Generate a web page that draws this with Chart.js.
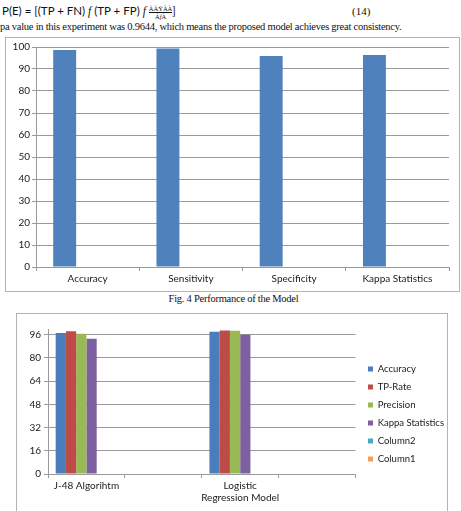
<!DOCTYPE html>
<html>
<head>
<meta charset="utf-8">
<script src="https://cdn.jsdelivr.net/npm/chart.js"></script>
<style>
  body { margin: 0; background: #fff; width: 461px; height: 511px; overflow: hidden; position: relative; }
  .txt { position: absolute; white-space: nowrap; color: #111; }
  .serif { font-family: "Liberation Serif", serif; font-size: 10.5px; letter-spacing: -0.25px; }
  .box { position: absolute; border: 1px solid #b3b3b3; box-sizing: border-box; }
  canvas { position: absolute; }
  .frac { display: inline-block; vertical-align: middle; text-align: center; font-size: 6.5px; line-height: 7px; font-family: "Liberation Serif", serif; }
  .frac span { display: block; }
  .frac .num { border-bottom: 1px solid #111; }
</style>
</head>
<body>
<div class="txt" style="left:49px;top:-6px;font-size:7px;font-family:'Liberation Serif'">À</div>
<div class="txt" style="left:2px;top:4px;font-family:Lato;font-size:11.5px">P(E) = [(TP + FN) <i style="font-family:'Liberation Serif'">f</i> (TP + FP) <i style="font-family:'Liberation Serif'">f</i> <span class="frac"><span class="num">ÀÀŸÀÀ</span><span>À<i>f</i>À</span></span>]</div>
<div class="txt serif" style="left:352px;top:5px;font-size:11px;letter-spacing:0">(14)</div>
<div class="txt serif" style="left:0px;top:21px">pa value in this experiment was 0.9644, which means the proposed model achieves great consistency.</div>

<div class="box" style="left:5px;top:37px;width:455px;height:255px"></div>
<canvas id="perfChart" width="453" height="253" style="left:6px;top:38px"></canvas>
<div class="txt serif" style="left:3px;top:293px;width:461px;text-align:center">Fig. 4 Performance of the Model</div>

<div class="box" style="left:16px;top:313px;width:432px;height:220px"></div>
<canvas id="compareChart" width="430" height="197" style="left:17px;top:314px"></canvas>

<script>
// Fig. 4 data
const perfLabels = ["Accuracy", "Sensitivity", "Specificity", "Kappa Statistics"];
const perfSeries1 = [98.6, 99.3, 95.9, 96.4];
const perfSeries2 = [null, null, null, null];
const perfSeries3 = [null, null, null, null];

// second chart data
const modelLabels = ["J-48 Algorihtm", "", ["Logistic", "Regression Model"], ""];
const accuracy = [97.2, null, 98.1, null];
const tpRate = [98.5, null, 99.0, null];
const precision = [96.7, null, 98.8, null];
const kappa = [93.2, null, 96.0, null];
const column2 = [null, null, null, null];
const column1 = [null, null, null, null];

const gridColor = "#9a9a9a";
const labelFont = { family: "Lato", size: 10 };
const labelColor = "#1a1a1a";

// Fig. 4
new Chart(document.getElementById("perfChart"), {
  type: "bar",
  data: {
    labels: perfLabels,
    datasets: [
      { label: "Series1", data: perfSeries1, backgroundColor: "#4F81BD" },
      { label: "Series2", data: perfSeries2, backgroundColor: "#C0504D" },
      { label: "Series3", data: perfSeries3, backgroundColor: "#9BBB59" },
    ],
  },
  options: {
    responsive: false,
    animation: false,
    events: [],
    categoryPercentage: 3 / 4.5,
    barPercentage: 1,
    layout: { padding: { left: 0, right: 10, top: 9, bottom: 0 } },
    plugins: { legend: { display: false }, tooltip: { enabled: false } },
    scales: {
      x: {
        afterFit: (scale) => { scale.height = 24; },
        grid: { offset: true, drawOnChartArea: false, tickLength: 4, color: gridColor },
        border: { color: gridColor },
        ticks: { font: labelFont, color: labelColor, padding: 2, maxRotation: 0 },
      },
      y: {
        min: 0,
        max: 100,
        afterFit: (scale) => { scale.width = 30; },
        grid: { color: gridColor, tickLength: 4 },
        border: { color: gridColor },
        ticks: { stepSize: 10, font: labelFont, color: labelColor, padding: 2 },
      },
    },
  },
});

// move the legend a little away from the plot, like the original
const legendShift = {
  id: "legendShift",
  afterLayout(chart) {
    const lg = chart.legend;
    lg.left += 4;
    lg.right += 4;
    lg.top -= 6;
    lg.bottom -= 6;
  },
};

new Chart(document.getElementById("compareChart"), {
  type: "bar",
  data: {
    labels: modelLabels,
    datasets: [
      { label: "Accuracy", data: accuracy, backgroundColor: "#4A7EBB" },
      { label: "TP-Rate", data: tpRate, backgroundColor: "#BE4B48" },
      { label: "Precision", data: precision, backgroundColor: "#98B954" },
      { label: "Kappa Statistics", data: kappa, backgroundColor: "#7D60A0" },
      { label: "Column2", data: column2, backgroundColor: "#46AAC5" },
      { label: "Column1", data: column1, backgroundColor: "#F59D56" },
    ],
  },
  options: {
    responsive: false,
    animation: false,
    events: [],
    categoryPercentage: 0.8,
    barPercentage: 1,
    layout: { padding: { left: 0, right: -3, top: 15, bottom: 0 } },
    plugins: {
      tooltip: { enabled: false },
      legend: {
        position: "right",
        labels: { boxWidth: 5, boxHeight: 5, padding: 8.5, font: { family: "Lato", size: 9.5 }, color: labelColor },
      },
    },
    scales: {
      x: {
        afterFit: (scale) => { scale.height = 37; },
        grid: { offset: true, drawOnChartArea: false, tickLength: 4, color: gridColor },
        border: { color: gridColor },
        ticks: { font: labelFont, color: labelColor, padding: 2, maxRotation: 0, autoSkip: false },
      },
      y: {
        min: 0,
        max: 100,
        afterFit: (scale) => { scale.width = 31; },
        grid: { color: gridColor, tickLength: 4 },
        border: { color: gridColor },
        ticks: { stepSize: 16, includeBounds: false, font: labelFont, color: labelColor, padding: 3 },
      },
    },
  },
  plugins: [legendShift],
});
</script>
</body>
</html>
